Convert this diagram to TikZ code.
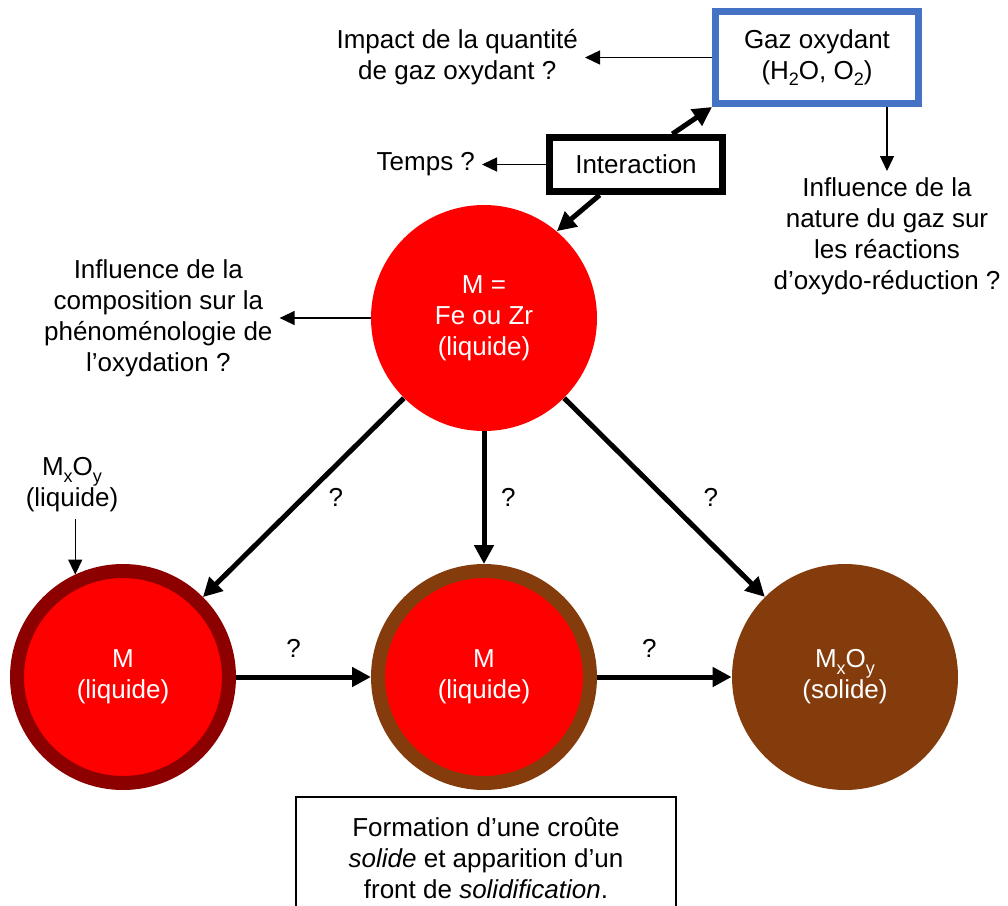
\documentclass[tikz,border=0pt]{standalone}
\usepackage{fontspec}
\setmainfont{Liberation Sans}
\usetikzlibrary{arrows.meta,positioning}
\definecolor{rouge}{RGB}{255,0,0}
\definecolor{bordeaux}{RGB}{140,0,0}
\definecolor{brun}{RGB}{132,60,12}
\definecolor{bleu}{RGB}{68,114,196}
\newcommand{\indice}[1]{\raisebox{-0.45ex}{\fontsize{9}{9}\selectfont #1}}

\begin{document}
\begin{tikzpicture}[x=0.5pt, y=-0.5pt, font=\fontsize{13}{15.5}\selectfont,
  bulle/.style={circle, fill=rouge, text=white, align=center, minimum size=113pt, inner sep=0pt},
  anneau/.style={bulle, line width=7pt, minimum size=106pt},
  cadre/.style={draw, line width=3.5pt, align=center},
  question/.style={align=center},
  fin/.style={-{Triangle[length=7.5pt, width=7pt]}, line width=0.7pt},
  gros/.style={-{Triangle[length=9.5pt, width=9.5pt]}, line width=2.5pt}]

  \useasboundingbox (0,0) rectangle (1008,906);

  % Circles
  \node[bulle] (M) at (484,318) {M =\\Fe ou Zr\\(liquide)};
  \node[anneau, draw=bordeaux] (L1) at (123,677) {M\\(liquide)};
  \node[anneau, draw=brun] (L2) at (484,677) {M\\(liquide)};
  \node[bulle, fill=brun] (S) at (845,677) {M\indice{x}O\indice{y}\\(solide)};

  % Boxes
  \node[cadre, draw=bleu, minimum width=101.5pt, minimum height=46pt] (G) at (817,57.5) {Gaz oxydant\\(H\indice{2}O, O\indice{2})};
  \node[cadre, minimum width=86.5pt, minimum height=27pt] (I) at (636,164.5) {Interaction};
  \node[draw, line width=0.7pt, align=center, minimum width=190pt, minimum height=61pt] (F) at (486,858) {Formation d’une croûte\\\textit{solide} et apparition d’un\\front de \textit{solidification}.};

  % Labels
  \node[question, left=63.5pt of G] (Q) {Impact de la quantité\\de gaz oxydant ?};
  \node[question, left=32pt of I] (T) {Temps ?};
  \node[question, below=32pt of G, xshift=35pt] (N) {Influence de la\\nature du gaz sur\\les réactions\\d’oxydo-réduction ?};
  \node[question, left=45.5pt of M] (C) {Influence de la\\composition sur la\\phénoménologie de\\l’oxydation ?};
  \node[question] (X) at (72,485) {M\indice{x}O\indice{y}\\(liquide)};

  % Thin arrows
  \draw[fin] (G.west) -- (Q.east);
  \draw[fin] (I.west) -- (T.east);
  \draw[fin] (N.north |- G.south) -- (N.north);
  \draw[fin] (M.west) -- (C.east);
  \draw[fin] (X.south -| L1.115) -- (L1.115);

  % Interaction arrows
  \draw[gros] (I.40) -- (G.south west);
  \draw[gros] (I.220) -- (M.50);

  % Paths between states
  \draw[gros] (M.225) -- (L1.45) node[midway, right=8pt] {?};
  \draw[gros] (M.south) -- (L2.north) node[midway, right=4pt] {?};
  \draw[gros] (M.-45) -- (S.135) node[midway, right=15pt] {?};
  \draw[gros] (L1.east) -- (L2.west) node[midway, above=5pt, xshift=-5pt] {?};
  \draw[gros] (L2.east) -- (S.west) node[midway, above=5pt, xshift=-7.5pt] {?};

\end{tikzpicture}
\end{document}
